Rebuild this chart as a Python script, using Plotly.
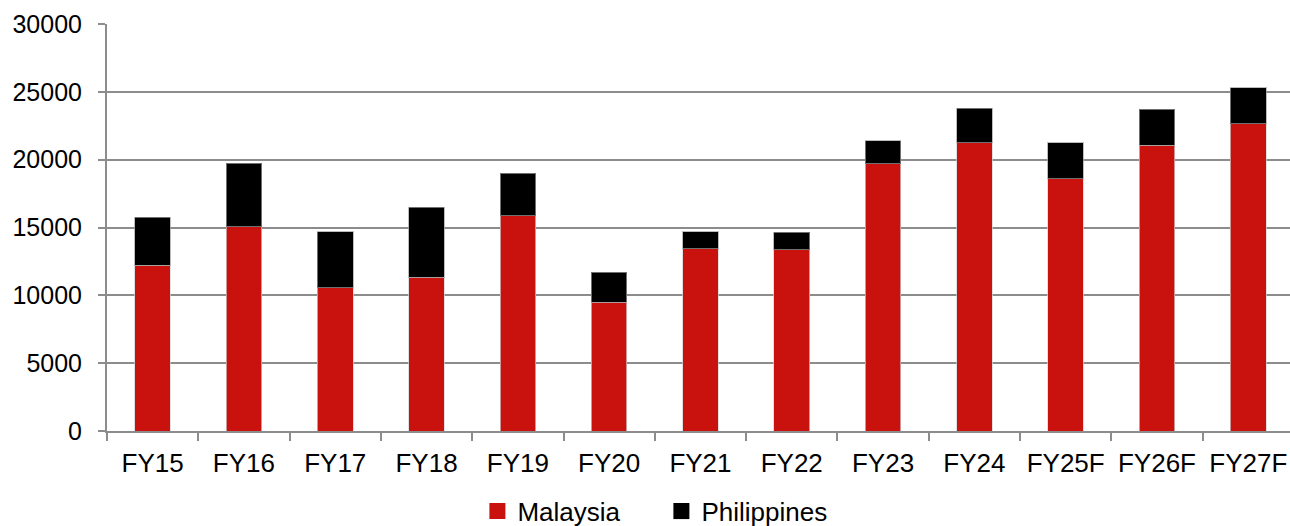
import plotly.graph_objects as go

categories = ["FY15", "FY16", "FY17", "FY18", "FY19", "FY20", "FY21", "FY22",
              "FY23", "FY24", "FY25F", "FY26F", "FY27F"]
malaysia = [12200, 15050, 10550, 11350, 15850, 9500, 13450, 13350,
            19700, 21250, 18600, 21050, 22650]
totals = [15750, 19750, 14700, 16500, 19000, 11700, 14700, 14650,
          21400, 23800, 21250, 23700, 25300]
philippines = [t - m for t, m in zip(totals, malaysia)]
series_names = ["Malaysia", "Philippines"]

RED = "#C9110D"
BLACK = "#000000"
GRID = "#8C8C8C"
FONT = "Liberation Sans, Arial, sans-serif"

fig = go.Figure()
fig.add_trace(go.Bar(x=categories, y=malaysia, name=series_names[0], showlegend=False,
                     marker=dict(color=RED, line=dict(color="rgba(210,210,210,0.7)", width=1))))
fig.add_trace(go.Bar(x=categories, y=philippines, name=series_names[1], showlegend=False,
                     marker=dict(color=BLACK, line=dict(color="rgba(160,160,160,0.7)", width=1))))
# legend-only entries with larger square swatches
for nm, col in zip(series_names, [RED, BLACK]):
    fig.add_trace(go.Scatter(x=[None], y=[None], mode="markers", name=nm,
                             marker=dict(symbol="square", size=16, color=col)))

fig.update_layout(
    barmode="stack",
    bargap=0.61,
    width=1290, height=526,
    margin=dict(l=107, r=0, t=24, b=95, autoexpand=False),
    plot_bgcolor="white", paper_bgcolor="white",
    font=dict(family=FONT, size=26, color="#000000"),
    legend=dict(orientation="h", x=0.3131, xanchor="left", y=-0.197, yanchor="middle",
                font=dict(size=26), entrywidthmode="pixels", entrywidth=139,
                traceorder="normal", itemsizing="trace"),
    showlegend=True,
)
fig.update_yaxes(range=[0, 30000], dtick=5000, tickformat="d", showgrid=True,
                 gridcolor=GRID, gridwidth=2, automargin=False,
                 showline=True, linecolor=GRID, linewidth=2, ticks="outside", ticklen=7,
                 tickcolor=GRID, tickwidth=2, ticklabelstandoff=11, zeroline=False,
                 tickfont=dict(size=25), fixedrange=True)
fig.update_xaxes(range=[-0.5, 12.457], showline=True, linecolor=GRID, linewidth=2,
                 ticks="outside", ticklen=8,
                 tickcolor=GRID, tickwidth=2, tickson="boundaries", showgrid=False,
                 automargin=False, ticklabelstandoff=8, tickfont=dict(size=26),
                 fixedrange=True)

fig.write_html(
    "out.html",
    config={"displayModeBar": False, "staticPlot": True},
    post_script=("document.body.style.margin='0';"
                 "document.body.style.overflow='hidden';"
                 "document.documentElement.style.overflow='hidden';"),
)
